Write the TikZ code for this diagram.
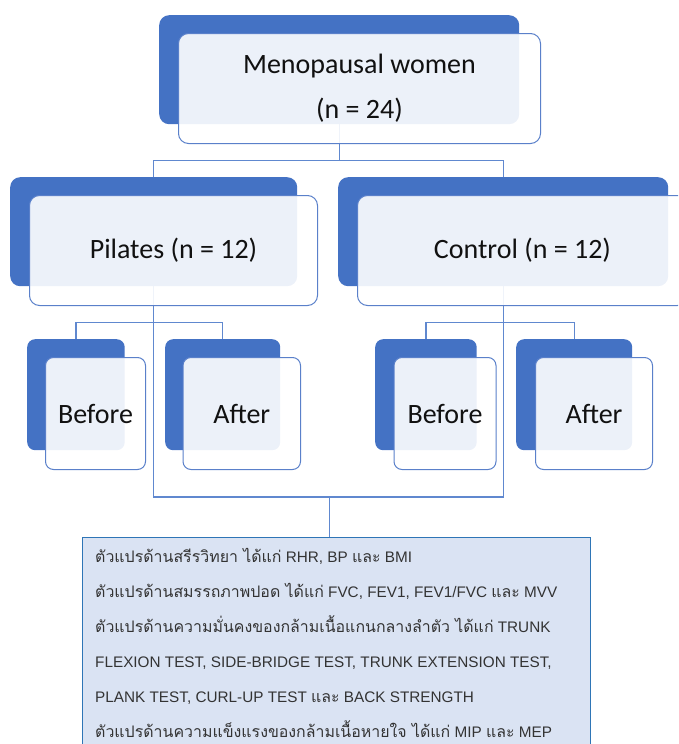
\documentclass[tikz,border=0pt]{standalone}
\usepackage{fontspec}
\newfontfamily\labelfont{Carlito}
\newfontfamily\thaifont[Script=Thai,Scale=1.04]{Loma}
\newfontfamily\latfont{Liberation Sans}
\definecolor{blueB}{HTML}{4472C4}
\definecolor{lineB}{HTML}{5A80CA}
\definecolor{connB}{HTML}{6088CF}
\definecolor{infoFill}{HTML}{DAE3F3}
\definecolor{infoLine}{HTML}{2E75B6}
\definecolor{txt}{HTML}{111111}
\tikzset{
  backbox/.style={fill=blueB, draw=none, rounded corners=10pt, anchor=north west, inner sep=0pt},
  frontbox/.style={fill=white, fill opacity=0.9, text opacity=1, draw=lineB, draw opacity=1, line width=1pt,
    rounded corners=10pt, anchor=north west, inner sep=0pt, text=txt,
    font=\labelfont\fontsize{28}{45}\selectfont, align=center},
  conn/.style={draw=connB, line width=1.4pt},
  infobox/.style={fill=infoFill, draw=infoLine, line width=1.3pt, anchor=north west, inner sep=0pt},
  infoline/.style={anchor=base west, inner sep=0pt, text=black!80, font=\latfont\fontsize{15.3}{18}\selectfont}
}
\begin{document}
\begin{tikzpicture}[x=1pt,y=-1pt]
\useasboundingbox (0,0) rectangle (678,744);
\clip (0,0) rectangle (678,744);
% back boxes
\node[backbox, minimum width=360pt, minimum height=109pt] (topB) at (159,15) {};
\node[backbox, minimum width=287pt, minimum height=109pt] (pilB) at (10,177) {};
\node[backbox, minimum width=330pt, minimum height=109pt] (ctlB) at (338,177) {};
\node[backbox, rounded corners=8pt, minimum width=97.5pt, minimum height=111pt] (befaB) at (27,339) {};
\node[backbox, rounded corners=8pt, minimum width=115pt, minimum height=111pt] (aftaB) at (165,339) {};
\node[backbox, rounded corners=8pt, minimum width=101.5pt, minimum height=111pt] (befbB) at (375,339) {};
\node[backbox, rounded corners=8pt, minimum width=116pt, minimum height=111pt] (aftbB) at (516,339) {};
% info box
\node[infobox, minimum width=508pt, minimum height=230pt] (info) at (82,537) {};
% connectors
\coordinate (jn) at (329.5,497);
\draw[conn] (topB.south) -- ++(0,36) -| (pilB.north);
\draw[conn] (topB.south) -- ++(0,36) -| (ctlB.north);
\draw[conn] (pilB.south) -- ++(0,36) -| (befaB.north);
\draw[conn] (pilB.south) -- ++(0,36) -| (aftaB.north);
\draw[conn] (ctlB.south) -- ++(0,36) -| (befbB.north);
\draw[conn] (ctlB.south) -- ++(0,36) -| (aftbB.north);
\draw[conn] (pilB.south) -- (pilB.south |- jn) -- (ctlB.south |- jn) -- (ctlB.south);
\draw[conn] (jn) -- (jn |- info.north);
% front boxes
\node[frontbox, minimum width=362pt, minimum height=110pt] (top) at (178,33) {Menopausal women\\(n = 24)};
\node[frontbox, minimum width=288pt, minimum height=110pt] (pil) at (29,195) {Pilates (n = 12)};
\node[frontbox, minimum width=330pt, minimum height=110pt] (ctl) at (357,195) {Control (n = 12)};
\node[frontbox, rounded corners=8pt, minimum width=100pt, minimum height=112pt] (befa) at (45,357) {Before};
\node[frontbox, rounded corners=8pt, minimum width=117.5pt, minimum height=112pt] (afta) at (182.5,357) {After};
\node[frontbox, rounded corners=8pt, minimum width=102pt, minimum height=112pt] (befb) at (393.5,357) {Before};
\node[frontbox, rounded corners=8pt, minimum width=117pt, minimum height=112pt] (aftb) at (535,357) {After};
% info text
\node[infoline] (l1) at (95,562) {{\thaifont ตัวแปรด้านสรีรวิทยา ได้แก่} RHR, BP {\thaifont และ} BMI};
\node[infoline] (l2) at (95,597) {{\thaifont ตัวแปรด้านสมรรถภาพปอด ได้แก่} FVC, FEV1, FEV1/FVC {\thaifont และ} MVV};
\node[infoline] (l3) at (95,632) {{\thaifont ตัวแปรด้านความมั่นคงของกล้ามเนื้อแกนกลางลำตัว ได้แก่} TRUNK};
\node[infoline] (l4) at (95,667.5) {FLEXION TEST, SIDE-BRIDGE TEST, TRUNK EXTENSION TEST,};
\node[infoline] (l5) at (95,702.5) {PLANK TEST, CURL-UP TEST {\thaifont และ} BACK STRENGTH};
\node[infoline] (l6) at (95,737.5) {{\thaifont ตัวแปรด้านความแข็งแรงของกล้ามเนื้อหายใจ ได้แก่} MIP {\thaifont และ} MEP};
\end{tikzpicture}
\end{document}
